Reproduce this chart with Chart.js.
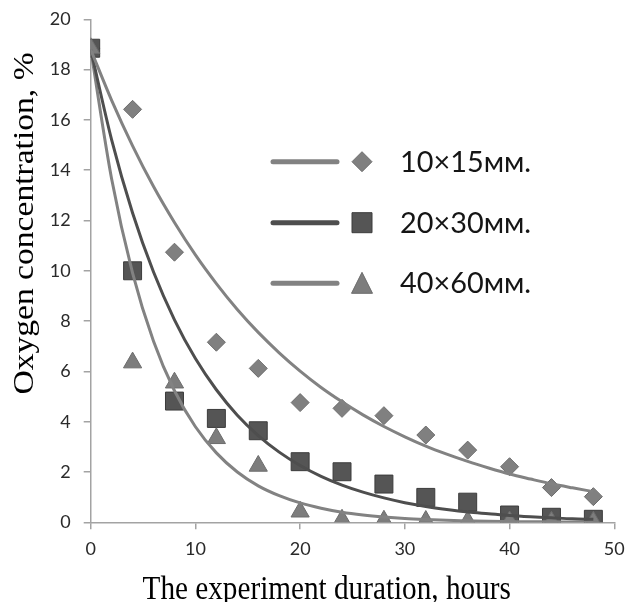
<!DOCTYPE html>
<html><head><meta charset="utf-8">
<script src="https://cdn.jsdelivr.net/npm/chart.js@4"></script>
<style>html,body{margin:0;padding:0;background:#fff}#wrap{width:628px;height:602px}</style>
</head><body><div id="wrap"><canvas id="c" width="628" height="602"></canvas></div>
<script>
// measured points
const hours = [0,4,8,12,16,20,24,28,32,36,40,44,48];
const conc10x15 = [18.85,16.42,10.74,7.16,6.12,4.76,4.53,4.24,3.47,2.87,2.21,1.38,1.02];
const conc20x30 = [18.85,10.0,4.82,4.13,3.64,2.41,2.01,1.52,0.99,0.80,0.29,0.20,0.12];
const conc40x60 = [18.85,6.35,5.55,3.34,2.24,0.42,0.10,0.06,0.05,0.04,0.03,0.02,0.02];
// trend curves
const fitHours = [0,2,4,6,8,10,12,14,16,18,20,22,24,26,28,30,32,34,36,38,40,42,44,46,48];
const fit10x15 = [18.8,16.78,14.97,13.35,11.92,10.63,9.49,8.46,7.55,6.74,6.01,5.36,4.79,4.27,3.81,3.40,3.03,2.71,2.42,2.16,1.92,1.72,1.53,1.37,1.22];
const fit20x30 = [18.8,15.21,12.30,9.95,8.05,6.51,5.27,4.26,3.45,2.79,2.26,1.83,1.48,1.20,0.97,0.78,0.63,0.51,0.41,0.34,0.27,0.22,0.18,0.14,0.12];
const fit40x60 = [18.8,13.65,9.91,7.20,5.23,3.80,2.76,2.00,1.45,1.06,0.77,0.56,0.40,0.29,0.21,0.15,0.11,0.08,0.06,0.04,0.03,0.02,0.02,0.01,0.01];
const seriesLabels = ['10×15мм.','20×30мм.','40×60мм.'];
const xTitle = 'The experiment duration, hours';
const yTitle = 'Oxygen concentration, %';
const xMin = 0, xMax = 50, xStep = 10;
const yMin = 0, yMax = 20, yStep = 2;

const lineColors = ['#828282','#4e4e4e','#828282'];
const markerFill = ['#808080','#555555','#7d7d7d'];
const markerEdge = ['#6c6c6c','#3c3c3c','#6c6c6c'];

const pts = (xs, ys) => xs.map((x,i)=>({x, y: ys[i]}));

const titlesPlugin = {
  id:'titles',
  afterDraw(chart){
    const ctx = chart.ctx;
    ctx.save();
    ctx.fillStyle = '#000';
    ctx.font = '33.6px "Liberation Serif", "Times New Roman", serif';
    ctx.textAlign = 'center';
    ctx.textBaseline = 'alphabetic';
    ctx.save();
    ctx.translate(326.7, 598.5);
    ctx.scale(0.87, 1);
    ctx.fillText(xTitle, 0, 0);
    ctx.restore();
    ctx.save();
    ctx.translate(32.5, 223.5);
    ctx.scale(0.87, 1);
    ctx.rotate(-Math.PI/2);
    ctx.fillText(yTitle, 0, 0);
    ctx.restore();
    ctx.restore();
  }
};

const legendPlugin = {
  id:'customLegend',
  afterDraw(chart){
    const ctx = chart.ctx;
    const rows = [161.7, 222.7, 283.3];
    ctx.save();
    rows.forEach((ry, i) => {
      ctx.strokeStyle = lineColors[i];
      ctx.lineWidth = 5;
      ctx.lineCap = 'round';
      ctx.beginPath(); ctx.moveTo(273, ry); ctx.lineTo(337, ry); ctx.stroke();
      const mx = 362;
      ctx.fillStyle = markerFill[i];
      ctx.strokeStyle = markerEdge[i];
      ctx.lineWidth = 1;
      ctx.lineCap = 'butt';
      ctx.beginPath();
      if (i === 0) {
        ctx.moveTo(mx-10, ry); ctx.lineTo(mx, ry-10); ctx.lineTo(mx+10, ry); ctx.lineTo(mx, ry+10); ctx.closePath();
      } else if (i === 1) {
        ctx.rect(mx-10, ry-10, 20, 20);
      } else {
        ctx.moveTo(mx, ry-11); ctx.lineTo(mx+10.5, ry+10); ctx.lineTo(mx-10.5, ry+10); ctx.closePath();
      }
      ctx.fill(); ctx.stroke();
      ctx.save();
      ctx.fillStyle = '#151515';
      ctx.font = '28px Lato, "Open Sans", sans-serif';
      ctx.textAlign = 'left';
      ctx.textBaseline = 'middle';
      ctx.translate(400, ry + 1);
      ctx.scale(1.03, 1);
      ctx.fillText(seriesLabels[i], 0, 0);
      ctx.restore();
    });
    ctx.restore();
  }
};

const gridOpts = {drawOnChartArea:false, drawTicks:true, tickLength:7, color:'#a3a3a3', lineWidth:1.5};
const borderOpts = {display:true, color:'#a3a3a3', width:1.5};
const tickFont = {family:'Lato, "Open Sans", sans-serif', size:18};

new Chart(document.getElementById('c'), {
  type:'scatter',
  data:{
    datasets:[
      {type:'line', label:seriesLabels[0]+' fit', data:pts(fitHours, fit10x15), borderColor:lineColors[0], borderWidth:3, pointRadius:0, cubicInterpolationMode:'monotone', fill:false, order:0},
      {type:'line', label:seriesLabels[1]+' fit', data:pts(fitHours, fit20x30), borderColor:lineColors[1], borderWidth:3, pointRadius:0, cubicInterpolationMode:'monotone', fill:false, order:0},
      {type:'line', label:seriesLabels[2]+' fit', data:pts(fitHours, fit40x60), borderColor:lineColors[2], borderWidth:3, pointRadius:0, cubicInterpolationMode:'monotone', fill:false, order:0},
      {label:seriesLabels[2], data:pts(hours, conc40x60), pointStyle:'triangle', pointRadius:10.5, backgroundColor:markerFill[2], borderColor:markerEdge[2], borderWidth:1, showLine:false, order:1},
      {label:seriesLabels[1], data:pts(hours, conc20x30), pointStyle:'rect', pointRadius:12.7, backgroundColor:markerFill[1], borderColor:markerEdge[1], borderWidth:1, showLine:false, order:2},
      {label:seriesLabels[0], data:pts(hours, conc10x15), pointStyle:'rectRot', pointRadius:9, backgroundColor:markerFill[0], borderColor:markerEdge[0], borderWidth:1, showLine:false, order:3}
    ]
  },
  options:{
    responsive:false, animation:false, devicePixelRatio:1,
    layout:{padding:{top:19.3, right:11, left:0, bottom:0}},
    plugins:{legend:{display:false}, tooltip:{enabled:false}},
    scales:{
      x:{type:'linear', min:xMin, max:xMax,
         ticks:{stepSize:xStep, color:'#2a2a2a', padding:9, font:tickFont},
         grid:gridOpts, border:borderOpts,
         afterFit(s){ s.height = 79.7; s.paddingLeft = 0; s.paddingRight = 0; }},
      y:{type:'linear', min:yMin, max:yMax,
         ticks:{stepSize:yStep, color:'#2a2a2a', padding:13, font:tickFont},
         grid:gridOpts, border:borderOpts,
         afterFit(s){ s.width = 90.7; s.paddingTop = 0; s.paddingBottom = 0; }}
    }
  },
  plugins:[titlesPlugin, legendPlugin]
});
</script></body></html>
